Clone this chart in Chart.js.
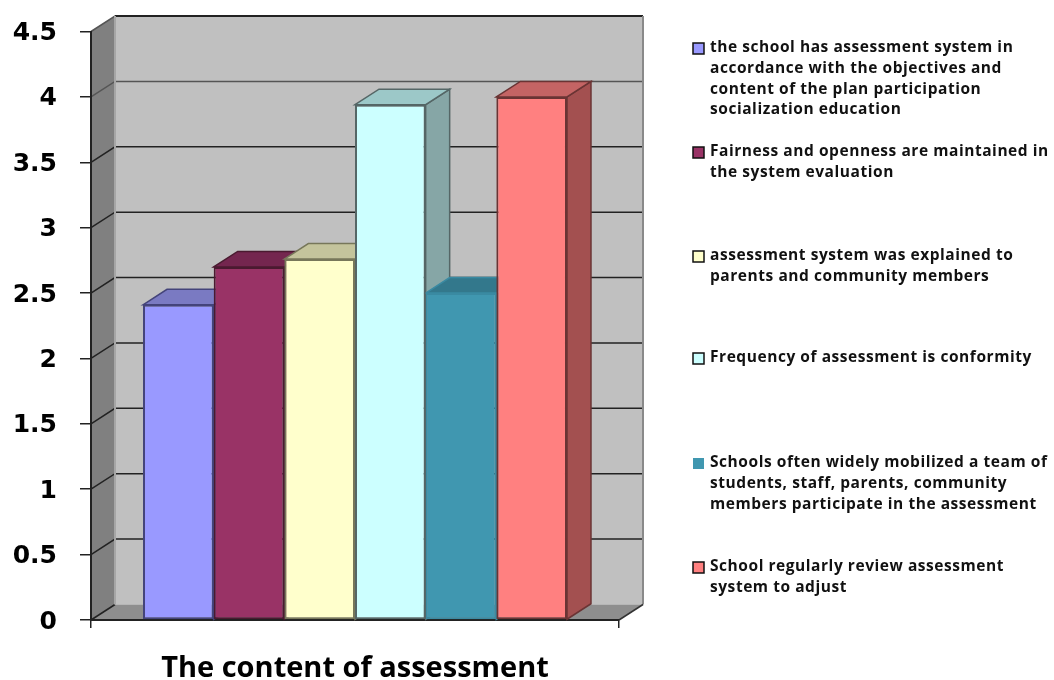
<!DOCTYPE html>
<html>
<head>
<meta charset="utf-8">
<style>html,body{margin:0;padding:0;background:#fff}#w{width:1054px;height:680px;position:relative}</style>
<script src="https://cdn.jsdelivr.net/npm/chart.js@4"></script>
</head>
<body>
<div id="w"><canvas id="c" width="1054" height="680"></canvas></div>
<script>
const categories = ["The content of assessment"];
const seriesNames = [
  ["the school has assessment system in","accordance with the objectives and","content of the plan participation","socialization education"],
  ["Fairness and openness are maintained in","the system evaluation"],
  ["assessment system was explained to","parents and community members"],
  ["Frequency of assessment is conformity"],
  ["Schools often widely mobilized a team of","students, staff, parents, community","members participate in the assessment"],
  ["School regularly review assessment","system to adjust"]
];
const seriesValues = [2.41, 2.70, 2.76, 3.94, 2.50, 4.00];
const fillColors = ["#9999ff","#993366","#ffffcc","#ccffff","#4097b0","#ff8080"];
const topColors  = ["#7a7ac2","#74264f","#c4c49c","#9cc8c8","#33788c","#c46464"];
const sideColors = ["#6c6cb0","#6a2246","#a8a888","#86a6a6","#2c6a7c","#a35050"];
const edgeColors = ["#44447a","#4a1a30","#77775a","#556666","#3a8aa2","#6a3434"];
const yTicks = [0,0.5,1,1.5,2,2.5,3,3.5,4,4.5];

const DX = 24, DY = -15.5;
const LEGEND_FONT = 'bold 15.5px "Open Sans"';

function poly(ctx, pts, fill, stroke, lw){
  ctx.beginPath();
  pts.forEach((p,i)=> i ? ctx.lineTo(p[0],p[1]) : ctx.moveTo(p[0],p[1]));
  ctx.closePath();
  if(fill){ctx.fillStyle=fill;ctx.fill();}
  if(stroke){ctx.strokeStyle=stroke;ctx.lineWidth=lw||1;ctx.stroke();}
}

const walls3d = {
  id:'walls3d',
  beforeDraw(chart){
    const {ctx, chartArea:a, scales:{y}} = chart;
    const L=a.left,R=a.right,T=a.top,B=a.bottom;
    ctx.save();
    poly(ctx,[[L+DX,T+DY],[R+DX,T+DY],[R+DX,B+DY],[L+DX,B+DY]],'#c0c0c0');
    poly(ctx,[[L,T],[L+DX,T+DY],[L+DX,B+DY],[L,B]],'#808080');
    poly(ctx,[[L,B],[L+DX,B+DY],[R+DX,B+DY],[R,B]],'#8e8e8e');
    yTicks.forEach(v=>{
      const py=y.getPixelForValue(v);
      ctx.strokeStyle = v>=4 ? '#555' : '#222';
      ctx.lineWidth=1.5;
      ctx.beginPath();
      ctx.moveTo(L,py);ctx.lineTo(L+DX,py+DY);
      if(v>0) ctx.lineTo(R+DX,py+DY);
      ctx.stroke();
    });
    ctx.strokeStyle='#222';ctx.lineWidth=2;
    ctx.beginPath();ctx.moveTo(L+DX,T+DY);ctx.lineTo(R+DX,T+DY);ctx.stroke();
    ctx.strokeStyle='#8a8a8a';ctx.lineWidth=2;
    ctx.beginPath();ctx.moveTo(R+DX,T+DY);ctx.lineTo(R+DX,B+DY);ctx.stroke();
    ctx.strokeStyle='#a6a6a6';
    ctx.beginPath();ctx.moveTo(L+DX,T+DY);ctx.lineTo(L+DX,B+DY);ctx.stroke();
    ctx.strokeStyle='#333';ctx.lineWidth=1.5;
    ctx.beginPath();ctx.moveTo(R,B);ctx.lineTo(R+DX,B+DY);ctx.stroke();
    ctx.restore();
  },
  beforeDatasetsDraw(chart){
    const ctx=chart.ctx;
    ctx.save();
    chart.data.datasets.forEach((ds,i)=>{
      const el=chart.getDatasetMeta(i).data[0];
      const l=el.x-el.width/2, r=el.x+el.width/2, t=el.y, b=el.base;
      poly(ctx,[[r,t],[r+DX,t+DY],[r+DX,b+DY],[r,b]],sideColors[i],edgeColors[i],1.5);
      poly(ctx,[[l,t],[l+DX,t+DY],[r+DX,t+DY],[r,t]],topColors[i],edgeColors[i],1.5);
    });
    ctx.restore();
  }
};

const sideLegend = {
  id:'sideLegend',
  afterDraw(chart){
    const ctx=chart.ctx;
    const startY=[48,152,256,358,463,567];
    ctx.save();
    ctx.font=LEGEND_FONT;
    ctx.letterSpacing='0.55px';
    ctx.textBaseline='middle';
    ctx.textAlign='left';
    seriesNames.forEach((lines,i)=>{
      const y0=startY[i];
      ctx.fillStyle=fillColors[i];
      ctx.fillRect(693,y0-5,11,11);
      if(i!==4){ctx.strokeStyle='#111';ctx.lineWidth=1.5;ctx.strokeRect(693,y0-5,11,11);}
      ctx.fillStyle='#111';
      lines.forEach((s,k)=>ctx.fillText(s,710,y0+k*20.6));
    });
    ctx.restore();
  }
};

new Chart(document.getElementById('c'),{
  type:'bar',
  data:{
    labels:categories,
    datasets:seriesValues.map((v,i)=>({
      label:seriesNames[i].join(' '),
      data:[v],
      backgroundColor:fillColors[i],
      borderColor:edgeColors[i],
      borderWidth:2,
      borderSkipped:false,
      categoryPercentage:0.803,
      barPercentage:1
    }))
  },
  options:{
    responsive:false,
    animation:false,
    devicePixelRatio:1,
    layout:{padding:{left:0,right:435,top:31.5,bottom:0}},
    plugins:{legend:{display:false},title:{display:false},tooltip:{enabled:false}},
    scales:{
      x:{
        z:1,
        afterFit(s){s.height=60;s.paddingLeft=0;s.paddingRight=0;},
        grid:{display:true,drawOnChartArea:false,offset:true,color:'#222',tickLength:8,lineWidth:1.5},
        border:{display:true,color:'#222',width:2},
        ticks:{display:false},
        title:{display:true,text:categories[0],color:'#000',font:{family:'"Open Sans"',weight:'bold',size:29},padding:{top:0,bottom:-6}}
      },
      y:{
        min:0,max:4.5,
        afterBuildTicks(s){s.ticks=yTicks.map(v=>({value:v}));},
        afterFit(s){s.width=91;s.paddingTop=0;s.paddingBottom=0;},
        grid:{drawOnChartArea:false,color:'#222',tickLength:11,lineWidth:1.5},
        border:{display:true,color:'#222',width:2},
        ticks:{color:'#000',padding:23,labelOffset:2,font:{family:'"DejaVu Sans"',weight:'bold',size:25},callback:v=>String(v)}
      }
    }
  },
  plugins:[walls3d,sideLegend]
});
</script>
</body>
</html>
